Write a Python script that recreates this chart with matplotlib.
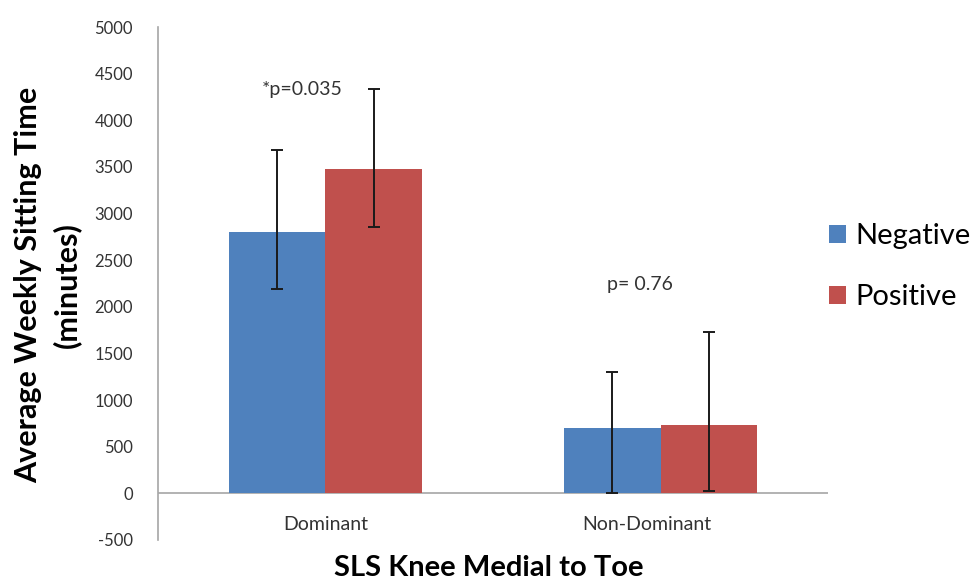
import numpy as np
import matplotlib
matplotlib.use("Agg")
import matplotlib.pyplot as plt

plt.rcParams['font.family'] = ['Lato', 'DejaVu Sans']
plt.rcParams['axes.unicode_minus'] = False

categories = ["Dominant", "Non-Dominant"]
series = ["Negative", "Positive"]
negative = [2805, 696]
positive = [3480, 731]
# asymmetric error bars (down, up)
neg_err = [[610, 696], [878, 603]]
pos_err = [[621, 706], [856, 1003]]
p_labels = ["*p=0.035", "p= 0.76"]
p_label_x = [-0.07, 0.94]
p_label_y = [4325, 2238]
yticks = np.arange(-500, 5001, 500)

colors = ["#4F81BD", "#C0504D"]

fig = plt.figure(figsize=(9.77, 5.81), dpi=100)
ax = fig.add_axes([0.1617, 0.0706, 0.6858, 0.8829])

x = np.arange(len(categories))
w = 0.287
ax.bar(x - w/2, negative, w, color=colors[0], label=series[0], zorder=2)
ax.bar(x + w/2, positive, w, color=colors[1], label=series[1], zorder=2)
ax.errorbar(x - w/2, negative, yerr=neg_err, fmt="none", ecolor="#1a1a1a",
            elinewidth=1.4, capsize=4, capthick=1.4, zorder=3)
ax.errorbar(x + w/2, positive, yerr=pos_err, fmt="none", ecolor="#1a1a1a",
            elinewidth=1.4, capsize=4, capthick=1.4, zorder=3)

for px, lab, py in zip(p_label_x, p_labels, p_label_y):
    ax.text(px, py, lab, ha="center", va="center", fontsize=14,
            color="#333333")

# category labels sit just under the zero line
cat_x = [0, 0.96]
for cx, lab in zip(cat_x, categories):
    ax.text(cx, -330, lab, ha="center", va="center", fontsize=14,
            color="#333333")

ax.axhline(0, color="#A6A6A6", lw=1.2, zorder=1)
ax.set_xlim(-0.5, 1.5)
ax.set_ylim(-500, 5000)
ax.set_yticks(yticks)
ax.set_xticks([])
ax.tick_params(axis="y", length=0, labelsize=12, labelcolor="#333333", pad=18)
for s in ["top", "right", "bottom"]:
    ax.spines[s].set_visible(False)
ax.spines["left"].set_color("#A6A6A6")
ax.spines["left"].set_linewidth(1.2)

fig.text(0.5, 1 - 568/581, "SLS Knee Medial to Toe", ha="center",
         va="center", fontsize=21, fontweight="bold")
fig.text(0.049, 0.51, "Average Weekly Sitting Time\n(minutes)", ha="center",
         va="center", rotation=90, fontsize=22, fontweight="bold",
         linespacing=1.4)

leg = fig.legend(loc="center left", bbox_to_anchor=(0.849, 0.541),
                 frameon=False, fontsize=21, handlelength=0.55,
                 handleheight=0.55, handletextpad=0.35, labelspacing=1.2,
                 borderaxespad=0, borderpad=0)

fig.savefig("out.png", dpi=100)
